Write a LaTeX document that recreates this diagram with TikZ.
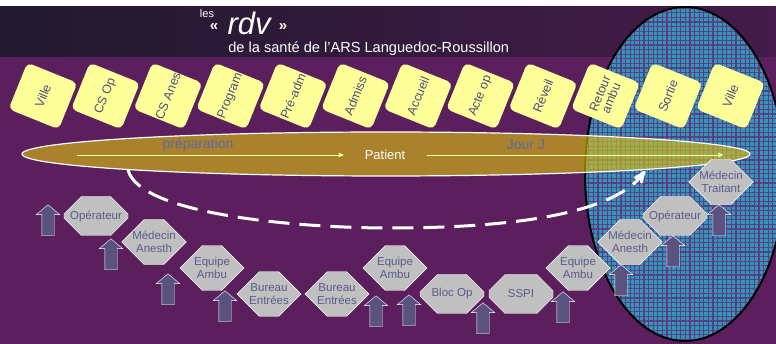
\documentclass[tikz,border=0pt]{standalone}
\usepackage{fontspec}
\setmainfont{Liberation Sans}
\usetikzlibrary{arrows,shapes,shapes.misc,shapes.arrows,patterns.meta}

\definecolor{bgpurple}{HTML}{5C1F5E}
\definecolor{headleft}{HTML}{211A2E}
\definecolor{headright}{HTML}{441B4A}
\definecolor{cardyellow}{HTML}{FFFF99}
\definecolor{cardtext}{HTML}{4E4E7E}
\definecolor{octogrey}{HTML}{C0C0C0}
\definecolor{octotext}{HTML}{5A5A8C}
\definecolor{arrowfill}{HTML}{5A527F}
\definecolor{zoneblue}{HTML}{3396B8}
\definecolor{zonegrid}{HTML}{5A3E84}
\definecolor{patientfill}{HTML}{E0C40C}
\definecolor{phasetext}{HTML}{5A6AA8}

\begin{document}
\begin{tikzpicture}[x=1pt,y=-1pt,>=stealth',semithick,
                    every text node part/.style={align=center}]
  \tikzstyle{card}=[rectangle,rounded corners=5pt,fill=cardyellow,rotate=68,
                    minimum width=50pt,minimum height=54pt,inner sep=0pt,
                    text=cardtext,font=\fontsize{12.5}{12}\selectfont]
  \tikzstyle{octo}=[chamfered rectangle,chamfered rectangle xsep=12pt,
                    chamfered rectangle ysep=12pt,fill=octogrey,draw=white,thin,
                    minimum width=64pt,minimum height=39pt,inner sep=0pt,
                    text=octotext,font=\fontsize{11.5}{12.5}\selectfont]
  \tikzstyle{uparrow}=[single arrow,rotate=90,anchor=tail,fill=arrowfill,draw=white,thin,
                    minimum height=31pt,inner xsep=0pt,inner ysep=6pt,
                    single arrow head extend=5.5pt,single arrow tip angle=100]
  \useasboundingbox (0,0) rectangle (776,344);

  % backgrounds
  \fill[white] (0,0) rectangle (776,344);
  \fill[bgpurple] (0,57) rectangle (776,344);
  \shade[left color=headleft,right color=headright] (0,7) rectangle (776,57);

  % title
  \node[text=white,font=\fontsize{11}{11}\selectfont] (les) at (207,14) {les};
  \node[text=white,font=\fontsize{15}{15}\bfseries] (laquo) at (214,27) {«};
  \node[text=white,font=\fontsize{31}{31}\itshape,anchor=base west] (rdv) at (224,35) {rdv};
  \node[text=white,font=\fontsize{15}{15}\bfseries] (raquo) at (283,27) {»};
  \node[text=white,font=\fontsize{14.6}{15}\selectfont,anchor=base west,inner sep=0pt]
       (sub) at (228,53) {de la santé de l'ARS Languedoc-Roussillon};

  % zone du jour J
  \fill[zoneblue] (685,174) ellipse [x radius=100,y radius=167];
  \fill[pattern={Lines[angle=0,distance=4.6pt,line width=1.1pt]},pattern color=zonegrid]
       (685,174) ellipse [x radius=100,y radius=167];
  \fill[pattern={Lines[angle=90,distance=4.6pt,line width=1.1pt]},pattern color=zonegrid]
       (685,174) ellipse [x radius=100,y radius=167];
  \draw[black,line width=2pt] (685,174) ellipse [x radius=100,y radius=167];

  % etapes
  \node[card] (c1)  at (43,96)    {Ville};
  \node[card] (c2)  at (105.5,96) {CS Op};
  \node[card] (c3)  at (168,96)   {CS Anes};
  \node[card] (c4)  at (230.5,96) {Program};
  \node[card] (c5)  at (293,96)   {Pré-adm};
  \node[card] (c6)  at (355.5,96) {Admiss};
  \node[card] (c7)  at (418,96)   {Accueil};
  \node[card] (c8)  at (480.5,96) {Acte op};
  \node[card] (c9)  at (543,96)   {Réveil};
  \node[card] (c10) at (605.5,96) {Retour\\ambu};
  \node[card] (c11) at (668,96)   {Sortie};
  \node[card] (c12) at (730.5,96) {Ville};

  % parcours patient
  \fill[patientfill,fill opacity=0.6] (386,154) ellipse [x radius=364,y radius=22];
  \draw[white,line width=1.2pt] (386,154) ellipse [x radius=364,y radius=22];
  \node[text=white,font=\fontsize{13}{13}\selectfont,inner xsep=21pt] (patient) at (385,155) {Patient};
  \node[text=phasetext,font=\fontsize{14}{14}\selectfont] (prep) at (198,145) {préparation};
  \node[text=phasetext,font=\fontsize{14}{14}\selectfont] (jourj) at (526,145) {Jour J};
  \coordinate (pstart) at (77,155);
  \coordinate (pend) at (723,155);
  \draw[->,cardyellow,thick] (pstart) -- (patient.west);
  \draw[->,cardyellow,thick] (patient.east) -- (pend);

  \coordinate (arcstart) at (128,170);
  \coordinate (arcend) at (645,171);
  \draw[->,white,line width=3pt,dash pattern=on 21pt off 10pt]
       (arcstart) .. controls (140,215) and (300,228) .. (390,228)
       .. controls (520,228) and (615,212) .. (arcend);

  % acteurs
  \node[octo] (op1)      at (96,216)  {Opérateur};
  \node[octo] (anes1)    at (154,242) {Médecin\\Anesth};
  \node[octo] (amb1)     at (212,268) {Equipe\\Ambu};
  \node[octo] (bur1)     at (269,294) {Bureau\\Entrées};
  \node[octo] (bur2)     at (337,294) {Bureau\\Entrées};
  \node[octo] (amb2)     at (395,268) {Equipe\\Ambu};
  \node[octo] (bloc)     at (452,294) {Bloc Op};
  \node[octo] (sspi)     at (521,294) {SSPI};
  \node[octo] (amb3)     at (578,268) {Equipe\\Ambu};
  \node[octo] (anes2)    at (630,242) {Médecin\\Anesth};
  \node[octo] (op2)      at (675,216) {Opérateur};
  \node[octo] (medtrait) at (721,182) {Médecin\\Traitant};

  \node[uparrow] (a1)  at (48,236)  {};
  \node[uparrow] (a2)  at (111,270) {};
  \node[uparrow] (a3)  at (168,305) {};
  \node[uparrow] (a4)  at (225,322) {};
  \node[uparrow] (a5)  at (376,327) {};
  \node[uparrow] (a6)  at (409,326) {};
  \node[uparrow] (a7)  at (483,334) {};
  \node[uparrow] (a8)  at (563,323) {};
  \node[uparrow] (a9)  at (621,296) {};
  \node[uparrow] (a10) at (673,267) {};
  \node[uparrow] (a11) at (719,236) {};
\end{tikzpicture}
\end{document}
